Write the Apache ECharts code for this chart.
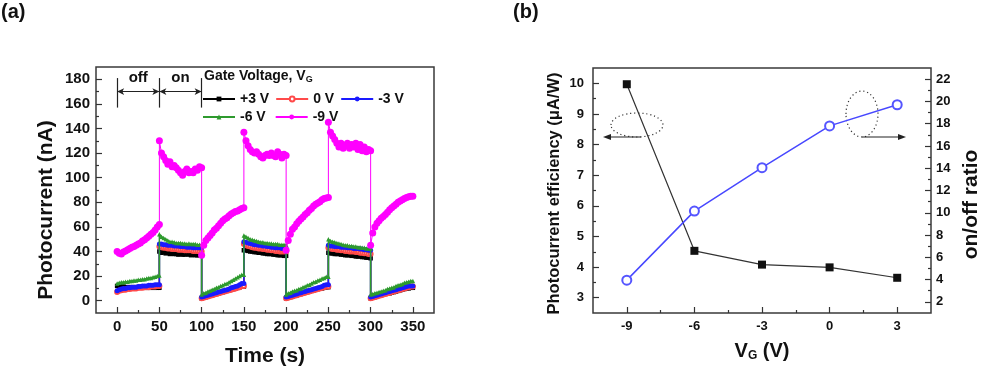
<!DOCTYPE html>
<html><head><meta charset="utf-8">
<script src="https://cdn.jsdelivr.net/npm/echarts@6/dist/echarts.min.js"></script>
<style>html,body{margin:0;padding:0;background:#fff}#c{width:1000px;height:372px}</style>
</head><body><div id="c"></div>
<script>
// ---------- Panel (a): photocurrent vs time ----------
const times = [
 0,2.5,5,7.5,10,12.5,15,17.5,20,22.5,25,27.5,30,32.5,35,37.5,40,42.5,45,47.5,50,
 50,52.5,55,57.5,60,62.5,65,67.5,70,72.5,75,77.5,80,82.5,85,87.5,90,92.5,95,97.5,100,
 100,102.5,105,107.5,110,112.5,115,117.5,120,122.5,125,127.5,130,132.5,135,137.5,140,142.5,145,147.5,150,
 150,152.5,155,157.5,160,162.5,165,167.5,170,172.5,175,177.5,180,182.5,185,187.5,190,192.5,195,197.5,200,
 200,202.5,205,207.5,210,212.5,215,217.5,220,222.5,225,227.5,230,232.5,235,237.5,240,242.5,245,247.5,250,
 250,252.5,255,257.5,260,262.5,265,267.5,270,272.5,275,277.5,280,282.5,285,287.5,290,292.5,295,297.5,300,
 300,302.5,305,307.5,310,312.5,315,317.5,320,322.5,325,327.5,330,332.5,335,337.5,340,342.5,345,347.5,350
];
const currentP3 = [
 12,11.5,11.5,11.5,11,11,11,11,11,11,11,11,11,10.5,10.5,10.5,10.5,10.5,10.5,10.5,10.5,
 40,39,39.5,38.5,39,38,38.5,38,38,37.5,38,37.5,37.5,38,37.5,37,37.5,37,37,37,37,
 2,2.5,3,3.5,4,4.5,5,5.5,6,6.5,7,7.5,8,8.5,9,9.5,10,10.5,11,11.5,11.5,
 41,41,40.5,40,40,39.5,39.5,39,39,38.5,38.5,38,38,38,37.5,37.5,37,37,37,36.5,36.5,
 2,2.5,3,3.5,4,4.5,5,5.5,6,6.5,7,7.5,8,8.5,9,9.5,10,10,10.5,11,11,
 39,38.5,38.5,38,38,38,37.5,37.5,37,37,37,36.5,36.5,36,36,36,35.5,35.5,35,35,34.5,
 2,2.5,3,3.5,4,4.5,5,5.5,6,6,6.5,7,7.5,8,8.5,9,9.5,10,10,10.5,10.5
];
const current0 = [
 7,8,8.5,9,9,9.5,9.5,10,10,10,10.5,10.5,10.5,11,11,11,11.5,11.5,11.5,12,12,
 44,43.5,43,43,42.5,42.5,42,42,42,41.5,41.5,41.5,41,41,41,41,40.5,40.5,40.5,40,40,
 2,2.5,3,3.5,4,4.5,5,5.5,6,6.5,7,7.5,8,8.5,9,9.5,10,10.5,11,12,12,
 46,45,44.5,44,43.5,43,43,42.5,42.5,42,42,41.5,41.5,41,41,40.5,40.5,40,40,40,40,
 2,2.5,3,3.5,4,4.5,5,5.5,6,6.5,7,7.5,8,8.5,9,9.5,10,10.5,11,11.5,11.5,
 43,42.5,42,42,41.5,41.5,41,41,40.5,40.5,40,40,40,39.5,39.5,39,39,38.5,38.5,38,38,
 2,2.5,3,3.5,4,4.5,5,5.5,6,6.5,7,7.5,8,8.5,9,9.5,10,10.5,11,11.5,11.5
];
const currentM3 = [
 8,9,9.5,10,10,10.5,10.5,11,11,11,11.5,11.5,12,12,12,12.5,12.5,12.5,13,13,13,
 46,46,45.5,45.5,45,45,45,44.5,44.5,44.5,44,44,44,43.5,43.5,43.5,43,43,43,43,43,
 3,3.5,4,4.5,5,5.5,6,6.5,7,7.5,8,8.5,9,9.5,10.5,11,11.5,12,13,14,14,
 48,47.5,47,46.5,46,45.5,45.5,45,45,44.5,44.5,44,44,43.5,43.5,43,43,43,42.5,42.5,42.5,
 3,3.5,4,4.5,5,5.5,6,6.5,7,7.5,8,8.5,9,9.5,10,10.5,11,11.5,12.5,13,13,
 45,44.5,44.5,44,44,44,43.5,43.5,43.5,43,43,43,42.5,42.5,42.5,42,42,41.5,41.5,41,41,
 3,3.5,4,4.5,5,5.5,6,6.5,7,7.5,8,8.5,9,9.5,10,10.5,11,11.5,12,12,12
];
const currentM6 = [
 14,14.5,15,15,15.5,15.5,16,16,16.5,16.5,17,17,17.5,17.5,18,18.5,18.5,19,19.5,20,20.5,
 54,52,51,50,49,48,48,47.5,47,47,47,46.5,46.5,46,46.5,46,46,46,45.5,45.5,45.5,
 5,6,6.5,7.5,8,9,9.5,10.5,11,12,12.5,13.5,14,15,16,17,18,19,20,21,21,
 53,52,51,50,49.5,49,48.5,48,47.5,47.5,47,47,46.5,46.5,46,46,46,45.5,45.5,45.5,45.5,
 5,6,6.5,7.5,8,8.5,9.5,10,11,11.5,12.5,13,14,15,15.5,16.5,17,18,18.5,19.5,19.5,
 50,48.5,48,47.5,47,46.5,46,45.5,45,45,44.5,44.5,44,44,43.5,43.5,43,43,42.5,42.5,42.5,
 5,5.5,6,6.5,7,7.5,8,8.5,9.5,10,10.5,11,12,12.5,13,13.5,14.5,15,15.5,16,16
];
const currentM9 = [
 40,38.5,38,39.5,40.5,41.5,42.5,43.5,44,45,46,47,48.5,49.5,51,52.5,54,55.5,57.5,60,62,
 130,120,117,114,111,113,109,110,108,106,104,102,105,107,104,105,104,107,106,109,108,
 37,45,49,51,53,55,57.5,59,61,63,65,66.5,67.5,69,70.5,71.5,72.5,73,74,75,75.5,
 137,130,126,123,121,120,121,119,117,116,118,119,118,120,118,117,121,119,116,119,118,
 41,49,54,58,60,62.5,64.5,66.5,68,70,71.5,73.5,75,77,78.5,79.5,80.5,82,83,83.5,84,
 145,137,134,131,128,125,128,124,126,128,124,127,125,128,123,127,122,125,121,123,122,
 45,55,60,63,65,67,68.5,70,72,74,75.5,77,78.5,80,81,82,83,84,84.5,85,85
];
const seriesNames = ['+3 V', '0 V', '-3 V', '-6 V', '-9 V'];
const timeTicks = [0, 50, 100, 150, 200, 250, 300, 350];
const timeMinorTicks = [25, 75, 125, 175, 225, 275, 325];
const currentTicks = [0, 20, 40, 60, 80, 100, 120, 140, 160, 180];
const currentMinorTicks = [10, 30, 50, 70, 90, 110, 130, 150, 170];
const periodLabels = ['off', 'on'];
const periodBounds = [0, 50, 100];

// ---------- Panel (b): efficiency & on/off ratio vs gate voltage ----------
const gateVoltage = [-9, -6, -3, 0, 3];
const efficiency = [9.97, 4.53, 4.08, 3.99, 3.65];
const onOffRatio = [3.95, 10.15, 14.05, 17.8, 19.7];
const gateTicks = [-9, -6, -3, 0, 3];
const gateMinorTicks = [-7.5, -4.5, -1.5, 1.5];
const effTicks = [3, 4, 5, 6, 7, 8, 9, 10];
const effMinorTicks = [3.5, 4.5, 5.5, 6.5, 7.5, 8.5, 9.5];
const ratioTicks = [2, 4, 6, 8, 10, 12, 14, 16, 18, 20, 22];
const ratioMinorTicks = [3, 5, 7, 9, 11, 13, 15, 17, 19, 21];

const FONT = '"Liberation Sans", Arial, sans-serif';
const AX = '#333';
const pairs = (xs, ys) => xs.map((x, i) => [x, ys[i]]);

function mainAxis(o) {
  return Object.assign({
    type: 'value', splitLine: { show: false },
    axisLine: { show: false, onZero: false },
    axisTick: { inside: true, length: 6, customValues: o.ticks, lineStyle: { color: AX, width: 1.2 } },
    axisLabel: { customValues: o.ticks, fontFamily: FONT, fontWeight: 'bold', fontSize: o.fs, color: '#111', margin: o.margin }
  }, o.extra);
}
function minorAxis(o) {
  return Object.assign({
    type: 'value', splitLine: { show: false },
    axisLine: { show: false, onZero: false },
    axisTick: { inside: true, length: 3, customValues: o.ticks, lineStyle: { color: AX, width: 1.2 } },
    axisLabel: { show: false }
  }, o.extra);
}

const chart = echarts.init(document.getElementById('c'), null, { renderer: 'canvas' });

const lowStyle = [
  { color: '#000000', symbol: 'rect', size: 4.5, lw: 1.5 },
  { color: '#ff4a4a', symbol: 'emptyCircle', size: 4, lw: 1.2 },
  { color: '#1a1aff', symbol: 'circle', size: 5, lw: 1.5 },
  { color: '#2e9a2e', symbol: 'triangle', size: 4.5, lw: 1.5 },
  { color: '#ff00ff', symbol: 'circle', size: 7, lw: 1 }
];
const currentData = [currentP3, current0, currentM3, currentM6, currentM9];

const seriesA = currentData.map((vals, i) => ({
  type: 'line', name: seriesNames[i], xAxisIndex: 0, yAxisIndex: 0,
  data: pairs(times, vals),
  symbol: lowStyle[i].symbol, symbolSize: lowStyle[i].size, showSymbol: true,
  itemStyle: { color: lowStyle[i].color },
  lineStyle: { color: lowStyle[i].color, width: lowStyle[i].lw },
  animation: false, z: 2 + i
}));

// annotation arrows (off / on) on the first series
seriesA[0].markLine = {
  silent: true, animation: false, symbol: 'none',
  lineStyle: { color: '#222', width: 1.2, type: 'solid' },
  label: { show: false },
  data: [
    ...periodBounds.map(t => [{ coord: [t, 181] }, { coord: [t, 157] }]),
    ...periodLabels.map((lab, k) => [
      { coord: [periodBounds[k], 170], symbol: 'arrow', symbolSize: [5, 7],
        label: { show: true, formatter: lab, position: 'insideMiddleTop', distance: 6,
                 fontFamily: FONT, fontWeight: 'bold', fontSize: 15, color: '#111' } },
      { coord: [periodBounds[k + 1], 170], symbol: 'arrow', symbolSize: [5, 7] }
    ])
  ]
};

const seriesB = [
  { type: 'line', name: 'efficiency', xAxisIndex: 2, yAxisIndex: 2,
    data: pairs(gateVoltage, efficiency), symbol: 'rect', symbolSize: 8,
    itemStyle: { color: '#111' }, lineStyle: { color: '#333', width: 1.2 }, animation: false },
  { type: 'line', name: 'ratio', xAxisIndex: 2, yAxisIndex: 4,
    data: pairs(gateVoltage, onOffRatio), symbol: 'emptyCircle', symbolSize: 9,
    itemStyle: { color: '#5555ff', borderWidth: 1.3 }, lineStyle: { color: '#4848ff', width: 1.5 }, animation: false }
];

const legendText = { fontFamily: FONT, fontWeight: 'bold', fontSize: 14, color: '#111' };

const option = {
  backgroundColor: '#ffffff',
  animation: false,
  grid: [
    { left: 96, top: 67, width: 338, height: 246, show: true, borderColor: '#3a3a3a', borderWidth: 1.5, backgroundColor: 'transparent' },
    { left: 593, top: 68, width: 338, height: 245, show: true, borderColor: '#3a3a3a', borderWidth: 1.5, backgroundColor: 'transparent' }
  ],
  legend: [
    { data: seriesNames.slice(0, 3), left: 202, top: 92, padding: 0, itemWidth: 32, itemHeight: 6, itemGap: 6,
      textStyle: legendText, selectedMode: false },
    { data: seriesNames.slice(3), left: 202, top: 110, padding: 0, itemWidth: 32, itemHeight: 6, itemGap: 9,
      textStyle: legendText, selectedMode: false }
  ],
  xAxis: [
    mainAxis({ ticks: timeTicks, fs: 15, margin: 6, extra: { gridIndex: 0, min: -25, max: 375, position: 'bottom',
      name: 'Time (s)', nameLocation: 'middle', nameGap: 33,
      nameTextStyle: { fontFamily: FONT, fontWeight: 'bold', fontSize: 21, color: '#111' } } }),
    minorAxis({ ticks: timeMinorTicks, extra: { gridIndex: 0, min: -25, max: 375, position: 'bottom' } }),
    mainAxis({ ticks: gateTicks, fs: 13, margin: 7, extra: { gridIndex: 1, min: -10.5, max: 4.5, position: 'bottom',
      name: '{v|V}{s|G}{v| (V)}', nameLocation: 'middle', nameGap: 27,
      nameTextStyle: { rich: {
        v: { fontFamily: FONT, fontWeight: 'bold', fontSize: 20, color: '#111' },
        s: { fontFamily: FONT, fontWeight: 'bold', fontSize: 12, color: '#111', verticalAlign: 'bottom', padding: [10, 0, 0, 0] } } } } }),
    minorAxis({ ticks: gateMinorTicks, extra: { gridIndex: 1, min: -10.5, max: 4.5, position: 'bottom' } })
  ],
  yAxis: [
    mainAxis({ ticks: currentTicks, fs: 15, margin: 6, extra: { gridIndex: 0, min: -10, max: 190, position: 'left',
      name: 'Photocurrent (nA)', nameLocation: 'middle', nameGap: 39,
      nameTextStyle: { fontFamily: FONT, fontWeight: 'bold', fontSize: 21, color: '#111', padding: [0, 40, 0, 0] } } }),
    minorAxis({ ticks: currentMinorTicks, extra: { gridIndex: 0, min: -10, max: 190, position: 'left' } }),
    mainAxis({ ticks: effTicks, fs: 13, margin: 9, extra: { gridIndex: 1, min: 2.5, max: 10.5, position: 'left',
      name: 'Photocurrent efficiency (μA/W)', nameLocation: 'middle', nameGap: 30,
      nameTextStyle: { fontFamily: FONT, fontWeight: 'bold', fontSize: 16.5, color: '#111', padding: [0, 6, 0, 0] } } }),
    minorAxis({ ticks: effMinorTicks, extra: { gridIndex: 1, min: 2.5, max: 10.5, position: 'left' } }),
    mainAxis({ ticks: ratioTicks, fs: 13, margin: 5, extra: { gridIndex: 1, min: 1, max: 23, position: 'right',
      name: 'on/off ratio', nameLocation: 'middle', nameGap: 30, nameRotate: 90,
      nameTextStyle: { fontFamily: FONT, fontWeight: 'bold', fontSize: 21, color: '#111', padding: [0, 28, 0, 0] } } }),
    minorAxis({ ticks: ratioMinorTicks, extra: { gridIndex: 1, min: 1, max: 23, position: 'right' } })
  ],
  graphic: [
    { type: 'text', left: 1, top: 2, style: { text: '(a)', font: 'bold 20px ' + FONT, fill: '#111' } },
    { type: 'text', left: 513, top: 2, style: { text: '(b)', font: 'bold 20px ' + FONT, fill: '#111' } },
    { type: 'text', left: 204, top: 69, style: {
        text: '{a|Gate Voltage, V}{b|G}',
        rich: { a: { fontFamily: FONT, fontWeight: 'bold', fontSize: 14, fill: '#111' },
                b: { fontFamily: FONT, fontWeight: 'bold', fontSize: 9, fill: '#111', padding: [8, 0, 0, 0] } } } },
    // dotted ellipse + arrow pointing to the left axis
    { type: 'ellipse', shape: { cx: 637, cy: 125, rx: 26, ry: 12 },
      style: { fill: null, stroke: '#333', lineWidth: 1.2, lineDash: [1.2, 2.8] } },
    { type: 'line', shape: { x1: 641, y1: 137, x2: 607, y2: 137 }, style: { stroke: '#222', lineWidth: 1.2 } },
    { type: 'polygon', shape: { points: [[603, 137], [611, 134], [611, 140]] }, style: { fill: '#222' } },
    // dotted ellipse + arrow pointing to the right axis
    { type: 'ellipse', shape: { cx: 862, cy: 114, rx: 16, ry: 23 },
      style: { fill: null, stroke: '#333', lineWidth: 1.2, lineDash: [1.2, 2.8] } },
    { type: 'line', shape: { x1: 862, y1: 137, x2: 901, y2: 137 }, style: { stroke: '#222', lineWidth: 1.2 } },
    { type: 'polygon', shape: { points: [[906, 137], [898, 134], [898, 140]] }, style: { fill: '#222' } }
  ],
  series: [...seriesA, ...seriesB]
};
chart.setOption(option);
</script>
</body></html>
